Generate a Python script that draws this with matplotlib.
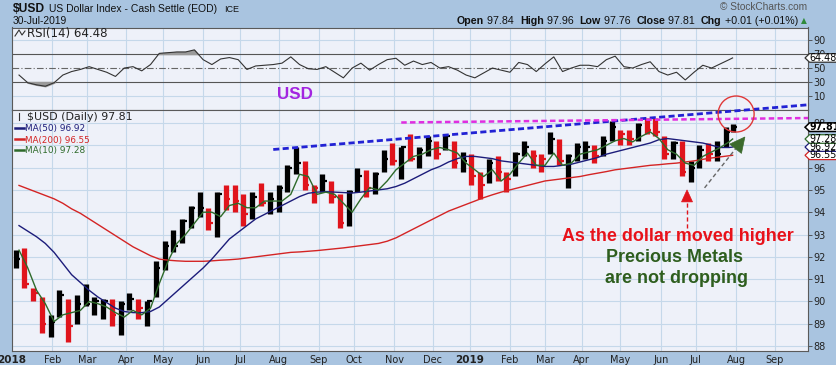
import numpy as np
import pandas as pd
import matplotlib
matplotlib.use("Agg")
import matplotlib.pyplot as plt
from matplotlib.patches import Polygon, Circle
from matplotlib.transforms import IdentityTransform

# ---------------- data (weekly) ----------------
week_dates = list(pd.date_range("2018-01-05", periods=82, freq="W-FRI").strftime("%Y-%m-%d")) + ["2019-07-30"]

closes = [91.9, 90.8, 90.4, 89.0, 89.1, 90.3, 88.9, 89.9, 89.9, 90.0,
          90.0, 89.4, 89.9, 90.1, 89.7, 90.0, 91.5, 92.5, 92.5, 93.6,
          94.2, 94.2, 93.5, 94.8, 94.6, 94.5, 93.9, 94.7, 94.4, 94.6,
          95.1, 96.0, 96.2, 95.2, 95.1, 95.4, 94.7, 93.5, 94.9, 95.6,
          95.1, 95.7, 96.4, 96.3, 96.9, 96.4, 96.8, 97.2, 96.6, 97.4,
          96.2, 96.3, 95.6, 95.2, 96.2, 95.8, 95.5, 96.6, 96.9, 96.5,
          96.4, 97.3, 96.3, 96.5, 96.9, 96.9, 96.5, 97.2, 97.8, 97.5,
          97.3, 97.9, 97.7, 97.6, 96.6, 97.1, 95.8, 96.0, 96.8, 96.6,
          96.6, 97.6, 97.81]

highs = [92.3, 92.4, 90.6, 90.2, 89.4, 90.5, 90.1, 90.3, 90.8, 90.2,
         90.1, 90.1, 90.0, 90.4, 90.1, 90.0, 91.8, 92.7, 93.2, 93.7,
         94.3, 94.9, 94.2, 94.9, 95.2, 95.2, 94.8, 94.9, 95.3, 94.9,
         95.2, 96.1, 96.9, 96.3, 95.2, 95.7, 95.4, 94.8, 95.0, 96.0,
         95.9, 95.8, 96.8, 97.1, 96.9, 97.5, 96.9, 97.4, 97.2, 97.5,
         97.2, 96.7, 96.6, 95.8, 96.4, 96.5, 95.8, 96.7, 97.2, 96.8,
         96.6, 97.6, 97.3, 96.6, 97.1, 97.2, 97.0, 97.4, 98.1, 97.7,
         97.7, 98.0, 98.2, 98.2, 97.4, 97.2, 97.2, 96.3, 97.0, 97.1,
         97.2, 97.8, 97.96]

lows = [91.5, 90.6, 90.0, 88.6, 88.4, 89.3, 88.2, 89.0, 89.8, 89.4,
        89.2, 88.9, 88.5, 89.6, 89.2, 88.9, 90.2, 91.4, 92.2, 92.6,
        93.3, 93.8, 93.2, 92.9, 94.1, 94.0, 93.4, 93.7, 94.3, 93.9,
        94.0, 94.9, 95.7, 95.0, 94.4, 94.9, 94.4, 93.3, 93.4, 94.9,
        94.7, 94.8, 95.8, 96.1, 95.5, 96.3, 96.0, 96.5, 96.4, 96.8,
        96.0, 95.8, 95.2, 94.6, 95.3, 95.4, 94.9, 95.6, 96.5, 96.0,
        95.8, 96.6, 96.1, 95.1, 96.3, 96.4, 96.2, 96.5, 97.2, 97.0,
        97.0, 97.2, 97.5, 97.4, 96.4, 96.4, 95.6, 95.35, 96.0, 96.3,
        96.3, 96.9, 97.6]

ma10 = [92.3, 91.5, 90.5, 89.9, 89.1, 89.4, 89.5, 89.6, 90.0, 89.9,
        89.75, 89.5, 89.3, 89.6, 89.4, 89.7, 90.8, 91.8, 92.6, 93.0,
        93.5, 94.0, 94.0, 93.8, 94.3, 94.4, 94.2, 94.2, 94.5, 94.5,
        94.5, 94.8, 95.7, 95.6, 94.8, 94.9, 94.8, 94.4, 94.0, 94.6,
        95.1, 95.0, 95.4, 95.9, 96.2, 96.5, 96.6, 96.8, 96.9, 96.8,
        96.65, 96.2, 95.9, 95.6, 95.9, 95.4, 95.7, 96.2, 96.65, 96.1,
        96.1, 96.65, 96.1, 96.2, 96.6, 96.7, 96.8, 97.0, 97.2, 97.3,
        97.15, 97.4, 97.6, 97.3, 96.8, 96.6, 96.2, 96.1, 96.5, 96.7,
        96.9, 97.15, 97.28]

ma50 = [93.4, 93.15, 92.9, 92.6, 92.2, 91.7, 91.2, 90.85, 90.5, 90.2,
        89.95, 89.7, 89.55, 89.5, 89.5, 89.55, 89.75, 90.1, 90.45, 90.8,
        91.15, 91.5, 91.9, 92.35, 92.8, 93.1, 93.4, 93.7, 93.9, 94.1,
        94.3, 94.5, 94.7, 94.85, 94.9, 94.92, 94.9, 94.88, 94.86, 94.9,
        94.95, 95.0, 95.05, 95.15, 95.3, 95.5, 95.7, 95.9, 96.05, 96.25,
        96.4, 96.5, 96.5, 96.45, 96.4, 96.3, 96.25, 96.2, 96.15, 96.1,
        96.05, 96.05, 96.1, 96.15, 96.25, 96.35, 96.45, 96.6, 96.7, 96.8,
        96.9, 97.0, 97.1, 97.25, 97.3, 97.25, 97.2, 97.15, 97.1, 97.0,
        96.9, 96.9, 96.92]

ma200 = [95.2, 95.05, 94.9, 94.75, 94.6, 94.4, 94.15, 93.95, 93.7, 93.45,
         93.2, 92.95, 92.7, 92.45, 92.25, 92.05, 91.9, 91.85, 91.82, 91.8,
         91.8, 91.8, 91.82, 91.85, 91.87, 91.9, 91.95, 92.0, 92.05, 92.1,
         92.15, 92.2, 92.22, 92.25, 92.28, 92.32, 92.36, 92.4, 92.45, 92.5,
         92.55, 92.6, 92.7, 92.85, 93.05, 93.25, 93.45, 93.65, 93.85, 94.05,
         94.2, 94.35, 94.5, 94.65, 94.78, 94.9, 95.0, 95.1, 95.2, 95.3,
         95.4, 95.45, 95.5, 95.55, 95.6, 95.68, 95.75, 95.82, 95.9, 95.95,
         96.0, 96.05, 96.1, 96.13, 96.17, 96.2, 96.25, 96.3, 96.37, 96.43,
         96.48, 96.53, 96.55]

rsi14 = [40, 29, 26, 24, 29, 40, 45, 48, 52, 48,
         44, 38, 50, 52, 46, 55, 71, 72, 73, 73,
         76, 62, 55, 63, 65, 62, 48, 53, 54, 55,
         57, 66, 55, 49, 48, 52, 44, 36, 50, 57,
         47, 55, 62, 64, 54, 60, 55, 58, 50, 52,
         47, 40, 36, 43, 50, 47, 44, 58, 55, 45,
         56, 66, 45, 50, 54, 54, 52, 62, 67, 52,
         50, 55, 59, 45, 40, 44, 33, 44, 54, 50,
         56, 62, 64.48]

month_starts = pd.date_range("2018-01-01", "2019-09-01", freq="MS")
price_ticks = [88, 89, 90, 91, 92, 93, 94, 95, 96, 97, 98]
rsi_ticks = [10, 30, 50, 70, 90]

# analyst annotations (data coordinates)
blue_trend = [("2018-07-27", 96.81), ("2019-09-30", 98.82)]
magenta_trend = [("2018-11-07", 98.02), ("2019-09-27", 98.22)]
circle_center = ("2019-08-01", 98.40)
red_arrow = [("2019-06-24", 93.29), ("2019-06-24", 95.0)]
green_arrow = [("2019-07-08", 95.09), ("2019-08-08", 97.37)]

# ---------------- styling ----------------
W, H = 836, 365
BG_OUT = "#a9c4e0"
BG_PLOT = "#eef1f9"
GRID = "#c5d8ea"
RED = "#e0141c"
NAVY = "#1c1c7a"
GREEN = "#2e6a2a"
MA200C = "#d42424"
AR = "Liberation Sans"

def didx(d):
    return float(np.busday_count("2018-01-01", pd.Timestamp(d).strftime("%Y-%m-%d")))

fig = plt.figure(figsize=(W / 100, H / 100), dpi=100)
fig.patch.set_facecolor(BG_OUT)
renderer = fig.canvas.get_renderer()

ax_r = fig.add_axes([12 / W, 1 - 110 / H, 796 / W, 82.5 / H])
ax_p = fig.add_axes([12 / W, 1 - 351 / H, 796 / W, 241 / H])

x_line = np.array([didx(d) for d in week_dates])
mondays = [pd.Timestamp(d).to_period("W-SUN").start_time for d in week_dates]
x_bar = np.minimum(np.array([didx(m) for m in mondays]) + 2, x_line)
month_idx = [float(np.busday_count("2018-01-01", np.busday_offset(m.strftime("%Y-%m-%d"), 0, roll="forward")))
             for m in month_starts]
month_lab = [str(m.year) if m.month == 1 else m.strftime("%b") for m in month_starts]

XMAX = didx("2019-09-27")
for ax in (ax_r, ax_p):
    ax.set_facecolor(BG_PLOT)
    ax.set_xlim(0, XMAX)
    for m in month_idx:
        ax.axvline(m, color=GRID, lw=0.8, zorder=0)
    for s in ax.spines.values():
        s.set_color("#5a5a5a")
        s.set_linewidth(0.8)
    ax.yaxis.tick_right()
    ax.tick_params(axis="y", labelsize=7, length=3, width=0.6, color="#444", pad=1, labelcolor="#222")

# ---- RSI panel ----
ax_r.set_ylim(-10, 108)
for v in (10, 90):
    ax_r.axhline(v, color=GRID, lw=0.8, zorder=0)
ax_r.axhline(70, color="#555", lw=0.8, zorder=1)
ax_r.axhline(30, color="#555", lw=0.8, zorder=1)
ax_r.axhline(50, color="#666", lw=0.8, ls=(0, (6, 2, 1, 2)), zorder=1)
r = np.array(rsi14, float)
ax_r.fill_between(x_line, 70, r, where=r > 70, interpolate=True, color="#9a9a9a", zorder=2)
ax_r.fill_between(x_line, 30, r, where=r < 30, interpolate=True, color="#9a9a9a", zorder=2)
ax_r.plot(x_line, r, color="#333", lw=0.8, zorder=3)
ax_r.set_yticks(rsi_ticks)
ax_r.set_xticks([])

# ---- price panel ----
ax_p.set_ylim(87.78, 98.58)
for v in price_ticks:
    ax_p.axhline(v, color=GRID, lw=0.8, zorder=0)
c = np.array(closes)
cols = ["black"] + ["black" if c[i] >= c[i - 1] else RED for i in range(1, len(c))]
ax_p.vlines(x_bar, lows, highs, colors=cols, lw=3.8, zorder=4)
ax_p.hlines(closes, x_bar, x_bar + 2.6, colors=cols, lw=1.6, zorder=4)
ax_p.plot(x_line, ma200, color=MA200C, lw=1.0, zorder=5)
ax_p.plot(x_line, ma50, color=NAVY, lw=1.0, zorder=5)
ax_p.plot(x_line, ma10, color=GREEN, lw=1.0, zorder=5)
ax_p.set_yticks(price_ticks)
ax_p.set_xticks(month_idx)
ax_p.set_xticklabels(month_lab)
ax_p.tick_params(axis="x", labelsize=7, length=0, pad=3, labelcolor="#222")
for t in ax_p.get_xticklabels():
    if t.get_text().isdigit():
        t.set_fontweight("bold")
        t.set_fontsize(7.5)

# trendlines
bx = [didx(d) for d, _ in blue_trend]; by = [v for _, v in blue_trend]
ax_p.plot(bx, by, color="#2222d4", lw=2.0, dashes=(2.2, 1.2), clip_on=False, zorder=6)
mx = [didx(d) for d, _ in magenta_trend]; my = [v for _, v in magenta_trend]
ax_p.plot(mx, my, color="#e02ee0", lw=1.8, dashes=(2.2, 1.3), clip_on=False, zorder=6)

fig.canvas.draw()
T = ax_p.transData

def disp(d, v):
    return T.transform((didx(d), v))

# circle
cc = disp(*circle_center)
fig.add_artist(Circle(cc, 18, transform=IdentityTransform(), fill=False, ec="#e03838", lw=1.0, zorder=10))

def arrow(p0, p1, shaft_color, head_color, head_len, half_w):
    a = disp(*p0); b = disp(*p1)
    u = (b - a) / np.hypot(*(b - a))
    n = np.array([-u[1], u[0]])
    base = b - u * head_len
    inv = T.inverted()
    s0 = inv.transform(a); s1 = inv.transform(base)
    ax_p.plot([s0[0], s1[0]], [s0[1], s1[1]], color=shaft_color, lw=1.0, ls=(0, (3, 2)), zorder=7, clip_on=False)
    tri = np.array([b, base + n * half_w, base - n * half_w])
    fig.add_artist(Polygon(tri, closed=True, transform=IdentityTransform(), fc=head_color, ec=head_color, lw=0.5, zorder=10))

arrow(red_arrow[0], red_arrow[1], RED, RED, 12, 5.5)
arrow(green_arrow[0], green_arrow[1], "#666666", "#3b6a2c", 15, 7.5)

# ---------------- texts ----------------
def width_of(t):
    return t.get_window_extent(renderer).width

def fit(px, py, s, target_w, ha="left", **kw):
    """Place text with baseline at pixel row py and scale font so its width is target_w px."""
    t = fig.text(px / W, 1 - py / H, s, fontsize=10, va="baseline", ha=ha, **kw)
    t.set_fontsize(10 * target_w / width_of(t))
    return t

fit(13, 12.5, "$USD", 32, fontweight="bold", family=AR, color="#111")
fit(49, 12.5, "US Dollar Index - Cash Settle (EOD)", 169, family=AR, color="#111")
fit(224, 12.5, "ICE", 15, family=AR, color="#111")
fit(13, 24, "30-Jul-2019", 54, family=AR, color="#111")
fit(720, 10, "\u00a9 StockCharts.com", 88, family=AR, color="#555")

# OHLC header: sequential layout, fitted to span x 457 -> 798
hdr = [("Open", True), (" 97.84  ", False), ("High", True), (" 97.96  ", False),
       ("Low", True), (" 97.76  ", False), ("Close", True), (" 97.81  ", False),
       ("Chg", True), (" +0.01 (+0.01%)", False)]
pieces = [fig.text(0, 0, s, fontsize=10, family=AR, fontweight="bold" if b else "normal",
                   va="baseline", color="#111") for s, b in hdr]
total = sum(width_of(p) for p in pieces)
fs = 10 * (798 - 457) / total
xcur = 457.0
for p in pieces:
    p.set_fontsize(fs)
    p.set_position((xcur / W, 1 - 24.5 / H))
    xcur += width_of(p)
fig.text(803.5 / W, 1 - 23.5 / H, "\u25b2", fontsize=5.5, color="#2f8a3a", va="baseline", ha="center")

fit(27, 36.5, "RSI(14) 64.48", 80, color="#222")
fig.add_artist(plt.Line2D([15 / W, 19 / W, 22 / W, 25 / W], [1 - 36 / H, 1 - 30 / H, 1 - 35 / H, 1 - 31 / H],
                          color="#333", lw=0.8))
fit(27, 120.5, "$USD (Daily) 97.81", 106, color="#222")
fig.add_artist(plt.Line2D([19 / W, 19 / W], [1 - 120 / H, 1 - 113 / H], color="#333", lw=0.8))
legend = [(131.5, "MA(50) 96.92", NAVY, 60), (142.5, "MA(200) 96.55", MA200C, 65), (153, "MA(10) 97.28", GREEN, 60)]
for py, s, col, w in legend:
    fig.add_artist(plt.Line2D([15 / W, 24 / W], [1 - (py - 3.3) / H] * 2, color=col, lw=1.8))
    fit(25, py, s, w, color=col)

fit(295, 99, "USD", 36, ha="center", fontweight="bold", family=AR, color="#a324e0")
fit(677.5, 241, "As the dollar moved higher", 231, ha="center", fontweight="bold", family=AR, color="#e8121a")
fit(674, 262, "Precious Metals", 136, ha="center", fontweight="bold", family=AR, color="#2e5e1e")
fit(676.5, 283, "are not dropping", 143, ha="center", fontweight="bold", family=AR, color="#2e5e1e")

# right-hand value tags (stacked, last one on top)
def tag(ax, v, s, ec, bold=False):
    y = ax.transData.transform((0, v))[1]
    hh = 4.3
    pts = np.array([[805, y], [809.5, y + hh], [840, y + hh], [840, y - hh], [809.5, y - hh]])
    fig.add_artist(Polygon(pts, closed=True, transform=IdentityTransform(), fc="white", ec=ec,
                           lw=1.1 if bold else 0.9, zorder=20))
    fig.text(809.5 / W, y / H, s, fontsize=6.9, fontweight="bold" if bold else "normal",
             va="center", ha="left", color="black", zorder=21)

tag(ax_r, 64.48, "64.48", "#333")
tag(ax_p, ma200[-1], "96.55", MA200C)
tag(ax_p, ma50[-1], "96.92", NAVY)
tag(ax_p, ma10[-1], "97.28", GREEN)
tag(ax_p, closes[-1], "97.81", "black", bold=True)

fig.savefig("out.png", dpi=100, facecolor=fig.get_facecolor())
